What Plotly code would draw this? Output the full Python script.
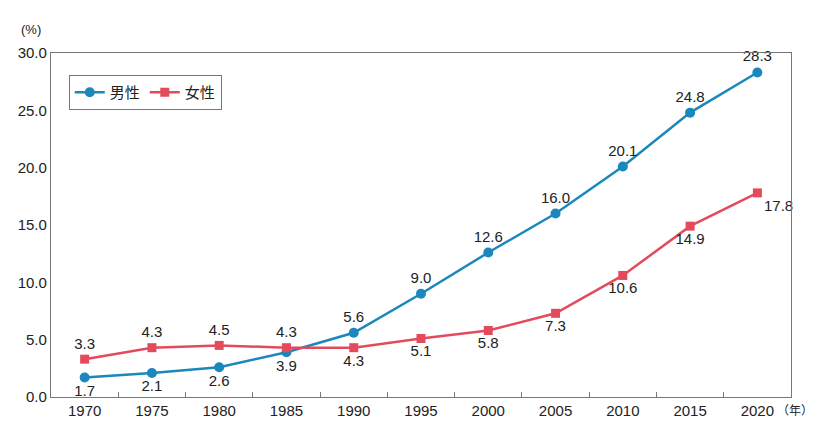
import plotly.graph_objects as go

# 年ごとの割合(%)
years = ["1970", "1975", "1980", "1985", "1990", "1995", "2000", "2005", "2010", "2015", "2020"]
men = [1.7, 2.1, 2.6, 3.9, 5.6, 9.0, 12.6, 16.0, 20.1, 24.8, 28.3]
women = [3.3, 4.3, 4.5, 4.3, 4.3, 5.1, 5.8, 7.3, 10.6, 14.9, 17.8]
y_ticks = [0, 5, 10, 15, 20, 25, 30]

BLUE = "#1a87bd"
RED = "#e34b5d"
FONT = "Liberation Sans, Noto Sans CJK JP, sans-serif"

# ラベルの位置 (男性: 1985年まで下, 女性: 1985年まで上)
men_pos = ["bottom center"] * 4 + ["top center"] * 7
women_pos = ["top center"] * 4 + ["bottom center"] * 6 + ["bottom right"]

fig = go.Figure()

fig.add_trace(go.Scatter(
    x=years, y=men, name="男性",
    mode="lines+markers+text",
    line=dict(color=BLUE, width=2.5),
    marker=dict(symbol="circle", size=10, color=BLUE),
    text=[f"{v:.1f}" for v in men],
    textposition=men_pos,
    textfont=dict(size=15, color="#222222"),
    cliponaxis=False,
))

fig.add_trace(go.Scatter(
    x=years, y=women, name="女性",
    mode="lines+markers+text",
    line=dict(color=RED, width=2.5),
    marker=dict(symbol="square", size=9, color=RED),
    text=[f"{v:.1f}" for v in women],
    textposition=women_pos,
    textfont=dict(size=15, color="#222222"),
    cliponaxis=False,
))

fig.update_xaxes(
    type="category",
    range=[-0.5, len(years) - 0.5],
    automargin=False,
    showline=True, linecolor="#777777", linewidth=1.2, mirror=True,
    ticks="inside", tickson="boundaries", ticklen=5, tickcolor="#777777",
    showgrid=False, zeroline=False,
    tickfont=dict(size=15, color="#222222"),
)

fig.update_yaxes(
    range=[0, 30],
    automargin=False,
    tickvals=y_ticks,
    ticktext=[f"{v:.1f}" for v in y_ticks],
    showline=True, linecolor="#777777", linewidth=1.2, mirror=True,
    ticks="", showgrid=False, zeroline=False,
    tickfont=dict(size=15, color="#222222"),
)

fig.update_layout(
    width=819, height=427,
    margin=dict(l=51, r=28, t=53, b=30),
    plot_bgcolor="white", paper_bgcolor="white",
    font=dict(family=FONT, size=15, color="#222222"),
    legend=dict(
        orientation="h", x=0.024, y=0.936, xanchor="left", yanchor="top",
        bordercolor="#777777", borderwidth=1, bgcolor="white",
        font=dict(size=15), itemwidth=30,
    ),
    annotations=[
        dict(text="(%)", xref="paper", yref="paper", x=-0.027, y=1.067,
             xanchor="center", yanchor="middle", showarrow=False, font=dict(size=13)),
        dict(text="（年）", xref="paper", yref="paper", x=1.032, y=-0.04,
             xanchor="right", yanchor="middle", showarrow=False, font=dict(size=12)),
    ],
)

# ページ本体の余白をなくす
fig.write_html("out.html", config={"displayModeBar": False},
               post_script="document.body.style.margin='0';")
